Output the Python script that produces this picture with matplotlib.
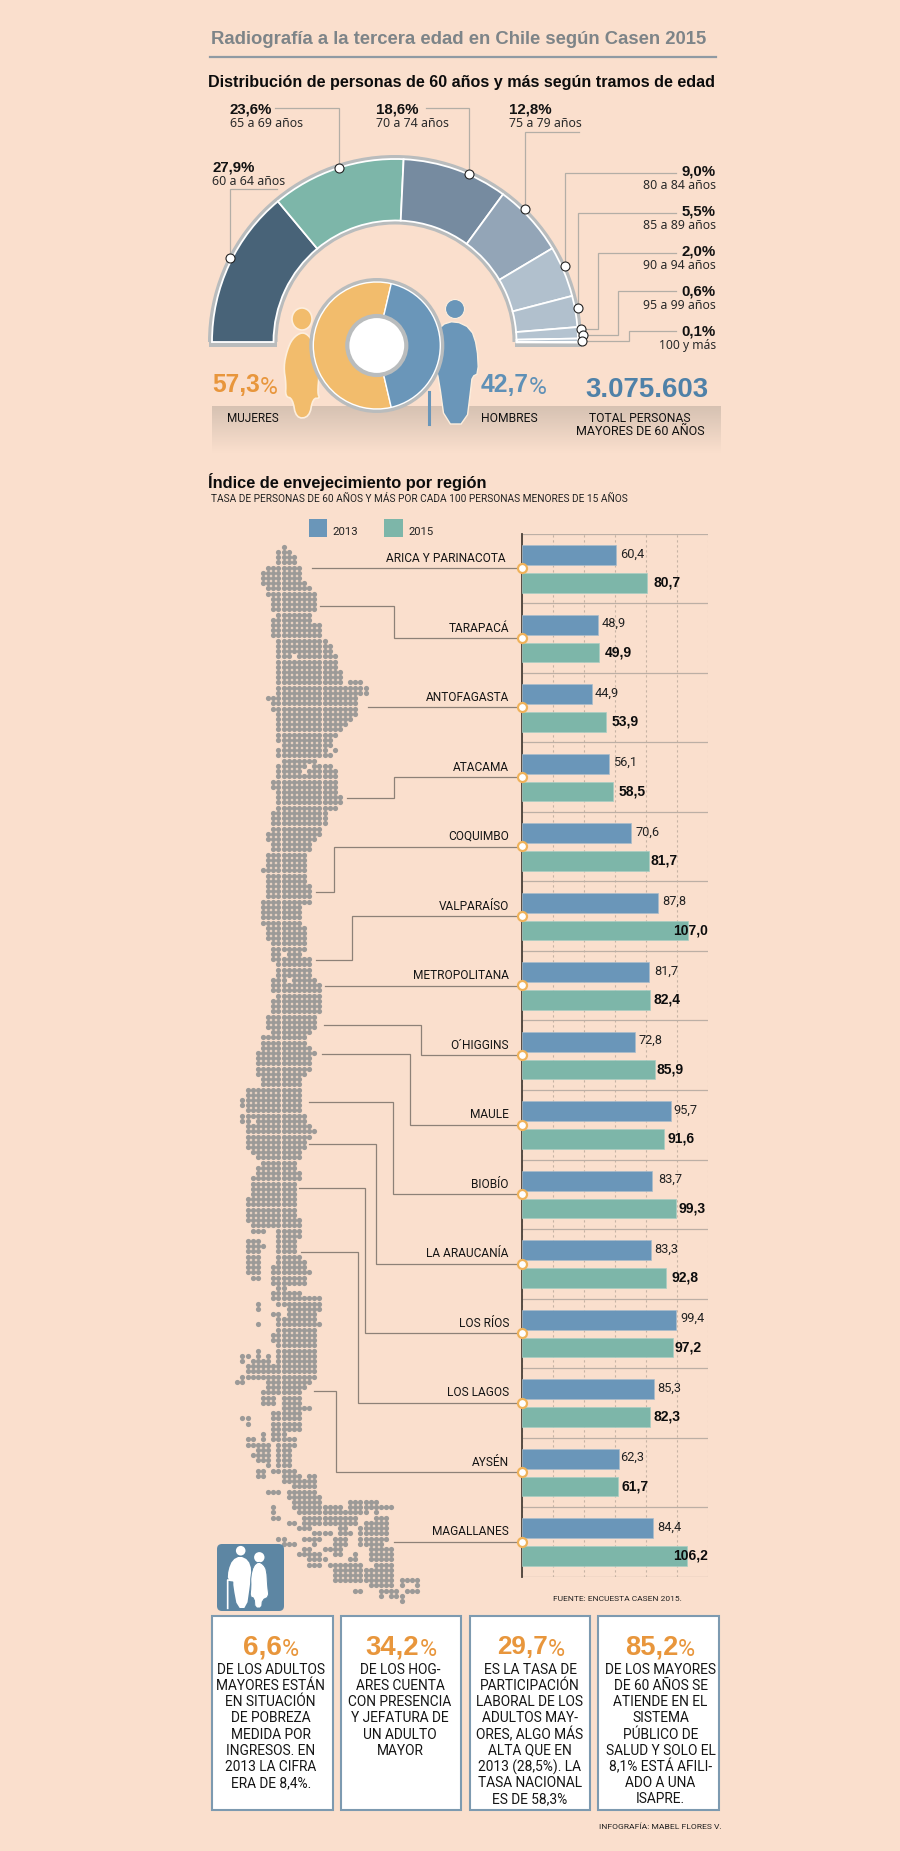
# Radiografia a la tercera edad en Chile, infografia Casen 2015
import numpy as np
import matplotlib
matplotlib.use('Agg')
import matplotlib.pyplot as plt
from matplotlib.patches import Wedge, Rectangle, Polygon, Ellipse, Circle, FancyBboxPatch

BG = '#fadfcd'
BLUE = '#6a96b9'
GREEN = '#7db6a9'
ORANGE = '#e8963c'
YELLOW = '#f2bc6c'
DOTS = '#9c9a98'
LEADER = '#8d8177'

# tramos de edad
age_labels = ['60 a 64 años', '65 a 69 años', '70 a 74 años', '75 a 79 años', '80 a 84 años',
              '85 a 89 años', '90 a 94 años', '95 a 99 años', '100 y más']
age_values = [27.9, 23.6, 18.6, 12.8, 9.0, 5.5, 2.0, 0.6, 0.1]
age_colors = ['#486378', '#7db6a9', '#768ba0', '#93a5b7', '#b1c0cd', '#b1c0cd', '#b4c3d0', '#b4c3d0', '#b4c3d0']

women = 57.3
men = 42.7
total_people = '3.075.603'

# indice de envejecimiento
regions = ['ARICA Y PARINACOTA', 'TARAPACÁ', 'ANTOFAGASTA', 'ATACAMA', 'COQUIMBO', 'VALPARAÍSO',
           'METROPOLITANA', 'O´HIGGINS', 'MAULE', 'BIOBÍO', 'LA ARAUCANÍA', 'LOS RÍOS',
           'LOS LAGOS', 'AYSÉN', 'MAGALLANES']
values_2013 = [60.4, 48.9, 44.9, 56.1, 70.6, 87.8, 81.7, 72.8, 95.7, 83.7, 83.3, 99.4, 85.3, 62.3, 84.4]
values_2015 = [80.7, 49.9, 53.9, 58.5, 81.7, 107.0, 82.4, 85.9, 91.6, 99.3, 92.8, 97.2, 82.3, 61.7, 106.2]

# cajas de abajo
box_numbers = ['6,6', '34,2', '29,7', '85,2']
box_texts = [
    ['DE LOS ADULTOS', 'MAYORES ESTÁN', 'EN SITUACIÓN', 'DE POBREZA', 'MEDIDA POR', 'INGRESOS. EN',
     '2013 LA CIFRA', 'ERA DE 8,4%.'],
    ['DE LOS HOG-', 'ARES CUENTA', 'CON PRESENCIA', 'Y JEFATURA DE', 'UN ADULTO', 'MAYOR'],
    ['ES LA TASA DE', 'PARTICIPACIÓN', 'LABORAL DE LOS', 'ADULTOS MAY-', 'ORES, ALGO MÁS', 'ALTA QUE EN',
     '2013 (28,5%). LA', 'TASA NACIONAL', 'ES DE 58,3%'],
    ['DE LOS MAYORES', 'DE 60 AÑOS SE', 'ATIENDE EN EL', 'SISTEMA', 'PÚBLICO DE', 'SALUD Y SOLO EL',
     '8,1% ESTÁ AFILI-', 'ADO A UNA', 'ISAPRE.'],
]

# mapa de puntos: por cada fila, tramos de columnas con punto
map_rows = [
    [(4, 4)], [(3, 5)], [(3, 6)], [(3, 6)], [(1, 7)], [(0, 7)], [(0, 7)], [(0, 8)],
    [(1, 2), (3, 7), (8, 9)], [(1, 10)], [(2, 10)], [(2, 10)], [(2, 10)], [(3, 9)], [(2, 9)], [(2, 11)],
    [(2, 11)], [(2, 11)], [(3, 10), (11, 12)], [(3, 10), (11, 13)], [(3, 6), (7, 13)], [(3, 5), (7, 14)],
    [(3, 14)], [(3, 14)], [(3, 15)], [(3, 15)], [(3, 15), (17, 19)], [(3, 20)], [(3, 20)], [(1, 18)],
    [(2, 18)], [(2, 18)], [(3, 18)], [(3, 17)], [(3, 16)], [(3, 15)], [(3, 14)], [(3, 13)], [(4, 13)],
    [(3, 12), (14, 14)], [(3, 13)], [(4, 10)], [(3, 8), (10, 13)], [(3, 7), (9, 14)], [(3, 5), (6, 14)],
    [(2, 3), (4, 14)], [(2, 3), (4, 14)], [(3, 14)], [(3, 15)], [(3, 15)], [(3, 14)], [(2, 12)], [(2, 12)],
    [(2, 12)], [(2, 11)], [(1, 11)], [(1, 10)], [(2, 9)], [(2, 9)], [(1, 8)], [(1, 8)], [(1, 8)], [(0, 8)],
    [(1, 2), (3, 5), (6, 8)], [(1, 8)], [(1, 9)], [(1, 9)], [(1, 9)], [(0, 9)], [(0, 7)], [(0, 7)], [(0, 7)],
    [(0, 7)], [(1, 8)], [(1, 8)], [(1, 8)], [(2, 8)], [(2, 8)], [(2, 3), (5, 7)], [(2, 9)], [(3, 9)], [(3, 9)],
    [(3, 9)], [(2, 4), (6, 10)], [(2, 4), (5, 11)], [(2, 3), (4, 11)], [(3, 11)], [(2, 3), (4, 11)], [(2, 11)],
    [(2, 11)], [(1, 10)], [(1, 10)], [(1, 10)], [(2, 4), (5, 9)], [(0, 2), (3, 8)], [(0, 8)], [(0, 9)], [(-1, 10)],
    [(-1, 9)], [(-1, 9)], [(-1, 9)], [(-1, 8)], [(0, 7)], [(0, 7)], [(-3, 7)], [(-3, 7)], [(-4, 7)], [(-4, 7)],
    [(-3, 7)], [(-4, 8)], [(-4, -3), (-1, 8)], [(-3, 9)], [(-3, 10)], [(-3, 9)], [(-3, 8)], [(-3, 8)], [(-2, 7)],
    [(-1, 7)], [(0, 6)], [(-1, 6)], [(-1, 7)], [(-2, 7)], [(-2, 6)], [(-2, 6)], [(-2, -1), (0, 6)], [(-3, 6)],
    [(-3, 6)], [(-3, 6)], [(-3, 6)], [(-3, 7)], [(-2, 7)], [(-2, 0), (3, 7)], [(3, 7)], [(-3, -1), (3, 6)],
    [(-3, 0), (3, 6)], [(-3, -1), (3, 6)], [(-3, -1), (3, 7)], [(-3, -1), (3, 8)], [(-3, -1), (2, 8)],
    [(-3, -1), (2, 9)], [(-2, -1), (2, 8)], [(2, 8)], [(3, 4)], [(2, 7)], [(2, 11)], [(-1, -1), (3, 11)],
    [(-1, -1), (5, 11)], [(2, 3), (5, 10)], [(3, 10)], [(-1, -1), (3, 11)], [(3, 10)], [(2, 10)], [(2, 10)],
    [(3, 10)], [(-1, -1), (3, 10)], [(-4, -3), (-1, -1), (1, 1), (3, 10)], [(-4, -4), (-2, 1), (3, 10)], [(-3, 10)],
    [(-3, 10)], [(-4, 10)], [(-5, -4), (1, 9)], [(1, 8)], [(0, 7)], [(0, 2), (4, 7)], [(0, 2), (4, 7)], [(4, 9)],
    [(2, 7)], [(-4, -3), (2, 7)], [(-3, -3), (2, 7)], [(2, 7)], [(0, 0), (2, 4)], [(-3, -2), (0, 0), (2, 6)],
    [(-3, 1), (3, 6)], [(-1, 1), (3, 5)], [(-2, 1), (3, 5)], [(-1, 1), (3, 5)], [(1, 1), (3, 5)], [(-1, 0), (2, 6)],
    [(-1, 0), (4, 7), (9, 10)], [(4, 10)], [(6, 10)], [(1, 3), (5, 10)], [(5, 11)], [(6, 11), (17, 22)],
    [(2, 2), (6, 15), (17, 25)], [(2, 2), (7, 20), (22, 22)], [(2, 3), (8, 18), (22, 24)],
    [(5, 6), (8, 18), (20, 24)], [(7, 9), (15, 16), (19, 24)], [(10, 13), (15, 17), (19, 24)],
    [(3, 4), (8, 11), (14, 16), (19, 24)], [(4, 6), (10, 10), (14, 16), (19, 23)], [(8, 9), (12, 15), (21, 25)],
    [(7, 11), (14, 15), (18, 18), (21, 25)], [(9, 12), (17, 18), (21, 25)], [(9, 11), (13, 19), (22, 25)],
    [(14, 25)], [(14, 25)], [(14, 25), (27, 30)], [(21, 25), (27, 27), (30, 30)],
    [(18, 19), (23, 26), (28, 30)], [(23, 23), (25, 27)], [(27, 27)],
]

W, H = 900, 1851
fig = plt.figure(figsize=(W / 100, H / 100), dpi=100, facecolor=BG)
ax = fig.add_axes([0, 0, 1, 1], zorder=1)
ax.set_axis_off()
renderer = fig.canvas.get_renderer()

NARROW = 'Roboto'
SANS = 'Noto Sans'
HEAVY = 'Liberation Sans'


def put(x, y, s, size=10, bold=False, color='#111111', ha='left', family=SANS, width=None):
    # texto en coordenadas de pixel; width ajusta el tamaño al ancho pedido
    t = ax.text(x, y, s, fontsize=size, color=color, ha=ha, va='center', family=family,
                fontweight='bold' if bold else 'normal')
    if width:
        t.set_fontsize(size * width / t.get_window_extent(renderer).width)
    return t


def leader(xs, ys, color=LEADER, lw=0.9):
    ax.plot(xs, ys, color=color, lw=lw, solid_joinstyle='miter', zorder=3)


def smooth(points, rounds=2):
    # redondea las esquinas de una silueta
    pts = np.array(points, dtype=float)
    for _ in range(rounds):
        nxt = np.roll(pts, -1, axis=0)
        pts = np.column_stack([0.75 * pts + 0.25 * nxt, 0.25 * pts + 0.75 * nxt]).reshape(-1, 2)
    return pts


def z1(points):
    return [(180 + a / 2.8, b / 3) for a, b in points]


def z9(points):
    return [(205 + a / 3, 1530 + b / 3) for a, b in points]


# cabecera
put(211, 39, 'Radiografía a la tercera edad en Chile según Casen 2015', 14, True, '#7d8488', family=HEAVY, width=496)
ax.plot([210, 716], [57, 57], color='#8f9aa3', lw=1.6)
put(208, 82, 'Distribución de personas de 60 años y más según tramos de edad', 12, True, '#0c0c0c', family=HEAVY, width=505)

# semicirculo por tramos de edad
cx, cy = 395, 342
R, r = 183, 121.5
ax.add_patch(Wedge((cx, cy), R + 4, 180, 360, width=R + 4 - (r - 4), fc='#b9bcbd', ec='none', zorder=2))
ax.add_patch(Rectangle((208.5, cy - 1), 68.5, 6, fc='#b9bcbd', ec='none', zorder=2))
ax.add_patch(Rectangle((515, cy - 1), 67, 6, fc='#b9bcbd', ec='none', zorder=2))
start = 0
for value, color in zip(age_values, age_colors):
    a0 = 180 + 1.8 * start
    start += value
    ax.add_patch(Wedge((cx, cy), R, a0, 180 + 1.8 * start, width=R - r, fc=color, ec='white', lw=1.3, zorder=3))

# lineas guia y etiquetas de cada tramo
guides = [
    ([277, 230, 230], [189, 189, 258]),
    ([275, 339, 339], [108, 108, 168]),
    ([426, 469, 469], [108, 108, 174]),
    ([579, 525, 525], [132, 132, 209]),
    ([676, 565, 565], [173, 173, 266]),
    ([676, 578, 578], [213, 213, 308]),
    ([676, 598, 598, 581], [253, 253, 329, 329]),
    ([676, 618, 618, 583], [291, 291, 335, 335]),
    ([676, 629, 629, 582], [331, 331, 341, 341]),
]
for xs, ys in guides:
    leader(xs, ys, color='#b3aea6', lw=0.9)
    ax.scatter(xs[-1], ys[-1], s=42, fc='white', ec='#222222', lw=0.8, zorder=5)

label_spots = [(212.5, 168, 'left'), (230, 110, 'left'), (376, 110, 'left'), (509, 110, 'left'),
               (716, 172, 'right'), (716, 212, 'right'), (716, 252, 'right'), (716, 292, 'right'), (716, 332, 'right')]
for (x, y, ha), value, label in zip(label_spots, age_values, age_labels):
    put(x, y, f'{value:.1f}%'.replace('.', ','), 10.8, True, ha=ha, family=HEAVY)
    put(x, y + 13.5, label, 10, False, '#2a2a2a', ha=ha, width=57 if label == '100 y más' else 72.5)

# banda gris bajo los totales
gradient = np.linspace(0, 1, 64).reshape(-1, 1, 1)
top_c = np.array([0.84, 0.76, 0.70]).reshape(1, 1, 3)
low_c = np.array(matplotlib.colors.to_rgb(BG)).reshape(1, 1, 3)
ax.imshow(top_c + (low_c - top_c) * gradient, extent=[212, 721, 453, 406], aspect='auto', zorder=1)

# figuras de mujer y hombre
woman = z1([(342, 995), (365, 1010), (380, 1050), (390, 1120), (385, 1180), (392, 1195), (372, 1195), (362, 1252),
            (325, 1255), (315, 1195), (295, 1190), (297, 1150), (290, 1100), (300, 1050), (315, 1015)])
ax.add_patch(Polygon(smooth(woman), fc=YELLOW, ec='#fdeedd', lw=1.2, zorder=4))
ax.add_patch(Ellipse((302, 319), 20, 22, fc=YELLOW, ec='#fdeedd', lw=1.2, zorder=4))
man = z1([(770, 962), (815, 985), (832, 1040), (836, 1120), (818, 1130), (815, 1160), (802, 1272), (742, 1272),
          (725, 1140), (715, 1100), (720, 1010), (730, 975)])
ax.add_patch(Polygon(smooth(man, 1), fc=BLUE, ec='#fdeedd', lw=1.0, zorder=4))
ax.add_patch(Circle((455, 309), 9.5, fc=BLUE, ec='#fdeedd', lw=0.8, zorder=4))
ax.plot([429, 429], [392, 424], color=BLUE, lw=2.2, zorder=4)

# dona mujeres / hombres
dx, dy = 376.8, 345.5
half = men * 3.6 / 2
ax.add_patch(Circle((dx, dy), 67.5, fc='#b9bcbd', ec='none', zorder=5))
ax.add_patch(Wedge((dx, dy), 63.5, half, 360 - half, width=63.5 - 29, fc=YELLOW, ec='white', lw=1.0, zorder=6))
ax.add_patch(Wedge((dx, dy), 63.5, -half, half, width=63.5 - 29, fc=BLUE, ec='white', lw=1.0, zorder=6))
ax.add_patch(Circle((dx, dy), 29.5, fc='white', ec='#b9bcbd', lw=3, zorder=7))

# totales
put(212, 385, f'{women:.1f}'.replace('.', ','), 24, True, ORANGE, family=HEAVY, width=48)
put(260, 387, '%', 17, False, ORANGE, family=NARROW, width=18)
put(227, 418, 'MUJERES', 10, family=NARROW, width=52)
put(481, 385, f'{men:.1f}'.replace('.', ','), 24, True, '#5f90b6', family=HEAVY, width=48)
put(529, 387, '%', 17, False, '#5f90b6', family=NARROW, width=18)
put(481, 418, 'HOMBRES', 10, family=NARROW, width=56)
put(585, 390, total_people, 26, True, '#4f81a8', family=HEAVY, width=123)
put(640, 418, 'TOTAL PERSONAS', 10, family=NARROW, ha='center', width=101)
put(640, 431, 'MAYORES DE 60 AÑOS', 10, family=NARROW, ha='center', width=128)

# segundo bloque
put(208, 482, 'Índice de envejecimiento por región', 12, True, '#0c0c0c', family=HEAVY, width=279)
put(211, 499, 'TASA DE PERSONAS DE 60 AÑOS Y MÁS POR CADA 100 PERSONAS MENORES DE 15 AÑOS', 8, False,
    '#222222', family=NARROW, width=416)
ax.add_patch(Rectangle((308.5, 519), 18.5, 18, fc=BLUE, ec='none', zorder=3))
put(332.5, 532, '2013', 9.5, color='#222222', family=NARROW, width=25.5)
ax.add_patch(Rectangle((384, 519), 19, 18, fc=GREEN, ec='none', zorder=3))
put(408.5, 532, '2015', 9.5, color='#222222', family=NARROW, width=25.5)

# mapa de Chile hecho de puntos
map_x, map_y = [], []
for j, runs in enumerate(map_rows):
    for a, b in runs:
        for col in range(a, b + 1):
            map_x.append(263 + 5.13 * col)
            map_y.append(546.7 + 5.22 * j)
ax.scatter(map_x, map_y, s=14, color=DOTS, linewidths=0, zorder=2)

# lineas desde el mapa hasta cada region
row_top, row_h = 534, 69.5
region_lines = [
    [(312, None)], [(320, 606), (393.6, None)], [(367.5, None)], [(347, 798), (393.6, None)],
    [(316, 892), (334, None)], [(316, 960), (352, None)], [(325, None)], [(324, 1024.5), (421, None)],
    [(321.7, 1053.6), (410, None)], [(309, 1102), (393, None)], [(309, 1144), (376, None)],
    [(299, 1188), (365, None)], [(301, 1252), (358, None)], [(314, 1391), (336, None)], [(394, None)],
]
for i, (points, name) in enumerate(zip(region_lines, regions)):
    y = row_top + row_h * i + 34.5
    if len(points) == 1:
        xs, ys = [points[0][0], 521.7], [y, y]
    else:
        xs = [points[0][0], points[1][0], points[1][0], 521.7]
        ys = [points[0][1], points[0][1], y, y]
    leader(xs, ys)
    put(505.5 if i == 0 else 509, y - 10, name, 8.6, color='#151515', ha='right', family=NARROW)

# barras
bar_left, bar_right = 521.7, 708.3
bar_top, bar_bottom = row_top, row_top + row_h * 15
bar_ax = fig.add_axes([bar_left / W, 1 - bar_bottom / H, (bar_right - bar_left) / W, (bar_bottom - bar_top) / H],
                      zorder=2)
bar_ax.patch.set_alpha(0)
rows = np.arange(len(regions))
bar_ax.barh(rows + 0.305, values_2013, height=0.283, color=BLUE, edgecolor='#a9bccb', linewidth=0.5, zorder=3)
bar_ax.barh(rows + 0.705, values_2015, height=0.278, color=GREEN, edgecolor='#a9cdc4', linewidth=0.5, zorder=3)
bar_ax.set_xlim(0, 120)
bar_ax.set_ylim(15, 0)
bar_ax.set_xticks(range(0, 121, 20))
bar_ax.set_yticks([])
bar_ax.tick_params(length=0, labelbottom=False)
bar_ax.grid(axis='x', color='#c6b3a4', lw=0.8, ls=(0, (2, 2.5)), zorder=1)
bar_ax.hlines(range(0, 16), 0, 120, color='#bcafa5', lw=0.9, zorder=2)
for side in ['top', 'right', 'bottom']:
    bar_ax.spines[side].set_visible(False)
bar_ax.spines['left'].set_color('#4a4038')
bar_ax.spines['left'].set_linewidth(1.3)
bar_ax.scatter([0] * len(regions), rows + 34.5 / row_h, s=42, fc='white', ec='#efb25a', lw=1.6, clip_on=False, zorder=6)

# separacion de cada etiqueta respecto de su barra, en pixeles
pad_2013 = [4.3, 4.3, 2.9, 4.3, 4, 4.3, 5.7, 4, 3, 6, 3, 4.3, 3.3, 1.7, 4.7]
pad_2015 = [6, 5.4, 6, 6, 1.4, 0, 3.7, 1.7, 3.7, 2.7, 5.3, 2, 3.7, 4.3, 0]
for i in rows:
    bar_ax.annotate(f'{values_2013[i]:.1f}'.replace('.', ','), (values_2013[i], i + 0.29), xytext=(pad_2013[i] * 0.72, 0),
                    textcoords='offset points', va='center', fontsize=9.2, family=NARROW, color='#222222', zorder=7,
                    annotation_clip=False)
    big = values_2015[i] > 100
    bar_ax.annotate(f'{values_2015[i]:.1f}'.replace('.', ','), (120 if big else values_2015[i], i + 0.7),
                    xytext=(0 if big else pad_2015[i] * 0.72, 0), textcoords='offset points', va='center',
                    ha='right' if big else 'left', fontsize=10, family=HEAVY, fontweight='bold', color='#0c0c0c',
                    zorder=7, annotation_clip=False)

# icono de abuelos
ax.add_patch(FancyBboxPatch((220, 1547), 61, 61, boxstyle='round,pad=3,rounding_size=5', fc='#5d86a3', ec='none', zorder=3))
ax.add_patch(Circle((240.7, 1550.7), 4.8, fc='white', ec='none', zorder=4))
ax.add_patch(Circle((259.3, 1557.3), 5.2, fc='white', ec='none', zorder=4))
ax.add_patch(Polygon(smooth(z9([(105, 78), (82, 90), (70, 120), (68, 150), (85, 150), (85, 170), (97, 234), (125, 234),
                                (135, 165), (140, 120), (130, 90)]), 1), fc='white', ec='none', zorder=4))
ax.add_patch(Polygon(smooth(z9([(160, 95), (145, 108), (137, 140), (138, 170), (135, 200), (148, 205), (150, 234), (170, 234),
                                (172, 210), (192, 200), (188, 170), (185, 120), (175, 103)]), 1), fc='white', ec='#5d86a3',
                     lw=0.7, zorder=5))
ax.plot(*zip(*z9([(68, 235), (68, 150), (85, 152)])), color='white', lw=1.2, zorder=5)

put(553, 1598.7, 'FUENTE: ENCUESTA CASEN 2015.', 8, color='#222222', family=NARROW, width=128)

# cajas con datos
box_edges = [(212, 332.5), (340.7, 461.4), (469.6, 590), (598, 718.6)]
text_centers = [270.7, 400, 530, 660.5]
number_lefts = [242.5, 365.7, 497, 625]
number_widths = [39, 53.6, 50.7, 53]
for n, (x0, x1) in enumerate(box_edges):
    ax.add_patch(Rectangle((x0, 1616), x1 - x0, 194, fc='white', ec='#7d9ab0', lw=1.5, zorder=3))
    put(number_lefts[n], 1647, box_numbers[n], 26, True, ORANGE, family=HEAVY, width=number_widths[n])
    put(number_lefts[n] + number_widths[n], 1649, '%', 19, False, ORANGE, family=NARROW, width=17)
    for k, line in enumerate(box_texts[n]):
        put(text_centers[n], 1669.7 + 16.2 * k, line, 9.9, color='#151515', ha='center', family=NARROW)

put(599, 1827, 'INFOGRAFÍA: MABEL FLORES V.', 8, color='#222222', family=NARROW, width=121)

ax.set_xlim(0, W)
ax.set_ylim(H, 0)
fig.savefig('out.png', dpi=100, facecolor=BG)
